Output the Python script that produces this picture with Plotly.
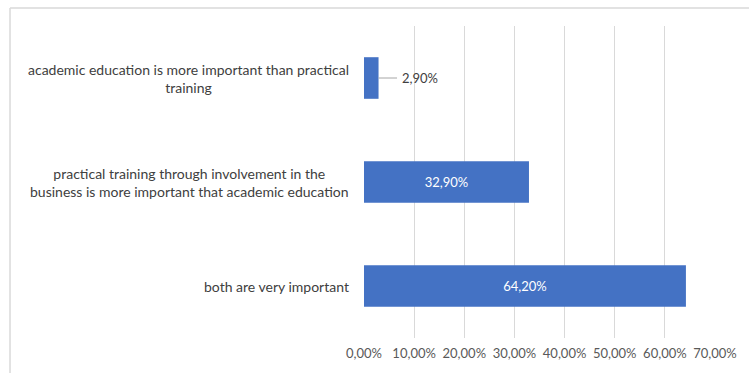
import plotly.graph_objects as go

# Survey answers, listed top to bottom as shown on the chart
categories = [
    "academic education is more important than practical<br>training",
    "practical training through involvement in the<br>business is more important that academic education",
    "both are very important",
]
shares = [2.90, 32.90, 64.20]
tick_values = [0, 10, 20, 30, 40, 50, 60, 70]
tick_labels = ["0,00%", "10,00%", "20,00%", "30,00%", "40,00%", "50,00%", "60,00%", "70,00%"]

FONT = "Lato, Calibri, Arial, sans-serif"
BAR = "#4472C4"
GRID = "#D9D9D9"


def pct(v):
    return f"{v:.2f}".replace(".", ",") + "%"


# values that fit inside their bar are printed inside; short bars get a callout
inside_text = [pct(v) if v >= 10 else "" for v in shares]

fig = go.Figure(
    go.Bar(
        x=shares,
        y=categories,
        orientation="h",
        marker=dict(color=BAR, line=dict(width=0)),
        text=inside_text,
        textposition="inside",
        insidetextanchor="middle",
        textfont=dict(color="white", size=13, family=FONT),
        textangle=0,
        hoverinfo="skip",
    )
)

annotations = []
for cat, v in zip(categories, shares):
    # category labels: centred lines, right edge just left of the axis
    annotations.append(
        dict(
            x=0, xref="paper", y=cat, yref="y",
            text=cat, showarrow=False,
            xanchor="right", yanchor="middle", align="center",
            xshift=-13,
            font=dict(size=14, color="#404040", family=FONT),
        )
    )
    if v < 10:
        annotations.append(
            dict(
                x=v, xref="x", y=cat, yref="y",
                text=pct(v), showarrow=True,
                arrowhead=0, arrowwidth=1, arrowcolor="#A6A6A6",
                ax=41, ay=0, standoff=0, startstandoff=0,
                borderpad=4,
                font=dict(size=13, color="#404040", family=FONT),
            )
        )

# chart-area frame (only its top and left edges fall inside the page)
shapes = [
    dict(type="line", xref="paper", yref="paper",
         x0=-1.0085, x1=1.3, y0=1.0575, y1=1.0575,
         line=dict(color=GRID, width=1.5)),
    dict(type="line", xref="paper", yref="paper",
         x0=-1.0085, x1=-1.0085, y0=-0.3, y1=1.0575,
         line=dict(color=GRID, width=1.5)),
]

fig.update_layout(
    width=749,
    height=373,
    margin=dict(l=364, r=32, t=26, b=34),
    paper_bgcolor="white",
    plot_bgcolor="white",
    bargap=0.6,
    showlegend=False,
    font=dict(family=FONT, color="#595959"),
    annotations=annotations,
    shapes=shapes,
    xaxis=dict(
        range=[0, 70],
        tickvals=tick_values,
        ticktext=tick_labels,
        showgrid=True,
        gridcolor=GRID,
        gridwidth=1,
        zeroline=False,
        showline=False,
        ticks="",
        ticklabelstandoff=6,
        tickfont=dict(size=13, color="#595959", family=FONT),
        fixedrange=True,
    ),
    yaxis=dict(
        categoryorder="array",
        categoryarray=categories,
        autorange="reversed",
        showticklabels=False,
        showgrid=False,
        zeroline=False,
        showline=False,
        ticks="",
        fixedrange=True,
    ),
)

fig.write_html("out.html", config={"displayModeBar": False})
